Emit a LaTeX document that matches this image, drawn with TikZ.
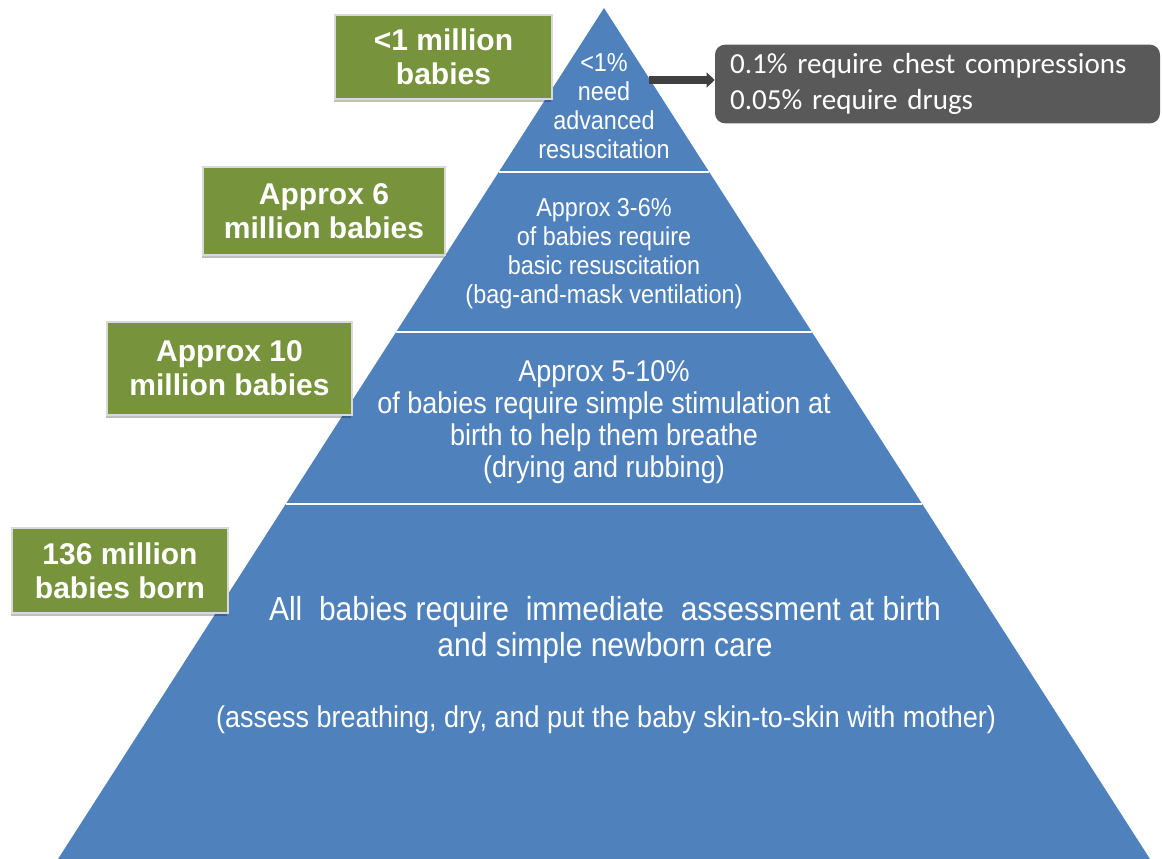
\documentclass[tikz,border=0pt]{standalone}
\usepackage{fontspec}
\setmainfont{Liberation Sans}
\newfontfamily\narrowfont[FakeStretch=0.9]{Liberation Sans}
\newfontfamily\calfont{Carlito}
\usetikzlibrary{arrows.meta,shadows}
\definecolor{pyrblue}{HTML}{4F81BD}
\definecolor{boxgreen}{HTML}{77933C}
\definecolor{darkgrey}{HTML}{595959}
\tikzset{
  countbox/.style={draw=white!85!black,line width=1.5pt,fill=boxgreen,text=white,
    font=\fontsize{22.5}{25.5}\selectfont\bfseries,align=center,inner sep=0pt,
    drop shadow={shadow xshift=-1pt,shadow yshift=-2.5pt,fill=black,opacity=.25}},
  tiertext/.style={text=white,align=center,inner sep=0pt},
}
\begin{document}
\begin{tikzpicture}[x=0.75pt,y=-0.75pt]
                \useasboundingbox (0,0) rectangle (1162,859);
                % pyramid and its tiers
                \fill[pyrblue] (604,8) -- (1150,859) -- (58,859) -- cycle;
                \foreach \ly in {172,332,504}
                    \draw[white,line width=2.2pt] ({604-0.642*(\ly-8)},\ly) -- ({604+0.642*(\ly-8)},\ly);
                \node[tiertext,font=\narrowfont\fontsize{19.5}{21.75}\selectfont] (T1) at (604,106) {<1\%\\need\\advanced\\resuscitation};
                \node[tiertext,font=\narrowfont\fontsize{19.5}{21.75}\selectfont] (T2) at (604,254) {Approx 3-6\%\\of babies require\\basic resuscitation\\(bag-and-mask ventilation)};
                \node[tiertext,font=\narrowfont\fontsize{22.5}{24}\selectfont] (T3) at (604,422) {Approx 5-10\%\\of babies require simple stimulation at\\birth to help them breathe\\(drying and rubbing)};
                \node[tiertext,font=\narrowfont\fontsize{25}{27}\selectfont] (T4) at (605,630) {All\ \ babies require\ \ immediate\ \ assessment at birth\\and simple newborn care};
                \node[tiertext,font=\narrowfont\fontsize{22.5}{24}\selectfont] (T5) at (606,720) {(assess breathing, dry, and put the baby skin-to-skin with mother)};
                % counts on the left
                \node[countbox,minimum width=162.75pt,minimum height=63pt] (C1) at (443.5,57) {<1 million\\babies};
                \node[countbox,minimum width=181.5pt,minimum height=66pt] (C2) at (324,211) {Approx 6\\million babies};
                \node[countbox,minimum width=183.75pt,minimum height=69.75pt] (C3) at (229.5,368.5) {Approx 10\\million babies};
                \node[countbox,minimum width=162pt,minimum height=63.75pt] (C4) at (120,570.5) {136 million\\babies born};
                % call-out on the right
                \node[fill=darkgrey,rounded corners=7.5pt,text=white,font=\calfont\fontsize{21.8}{27}\selectfont,
                      align=left,text width=311.25pt,inner xsep=11.25pt,inner ysep=0pt,minimum height=59pt] (D) at (937.5,84) {0.1\% require chest compressions\\0.05\% require drugs};
                \coordinate (E) at (649,80);
                \draw[black!75,line width=6pt,-{Triangle[length=6pt,width=11pt]}] (E) -- (D.west |- E);
            \end{tikzpicture}
\end{document}
